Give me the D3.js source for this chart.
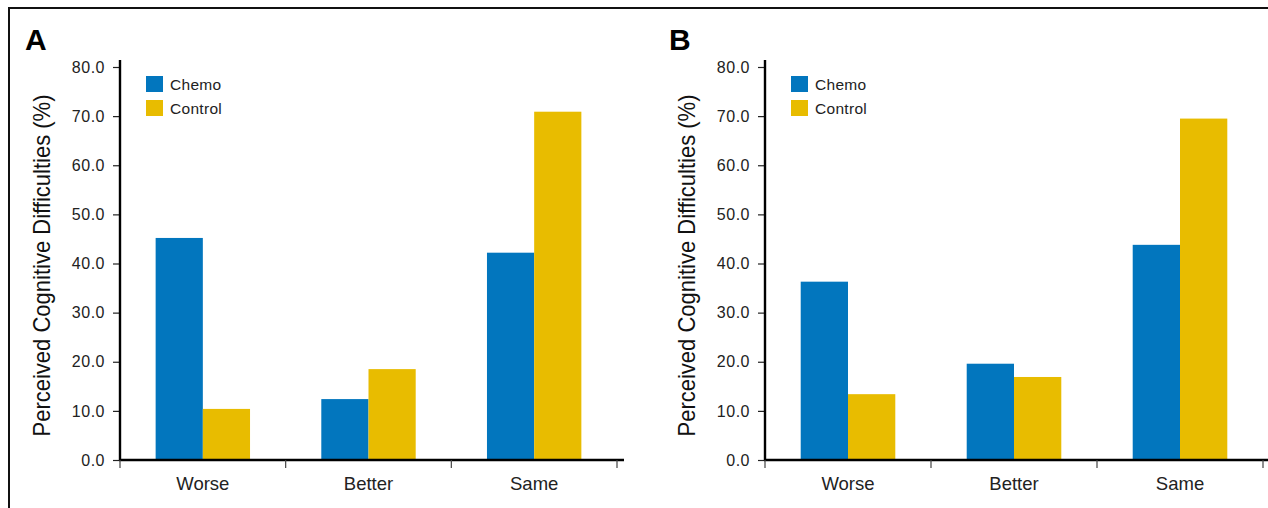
<!DOCTYPE html>
<html>
<head>
<meta charset="utf-8">
<script src="https://cdn.jsdelivr.net/npm/d3@7"></script>
<style>
  body { margin: 0; background: #fff; }
  svg { display: block; font-family: "Liberation Sans", Arial, sans-serif; }
</style>
</head>
<body>
<svg id="chart" width="1268" height="508"></svg>
<script>
// data
var categories = ['Worse', 'Better', 'Same'];
var series = ['Chemo', 'Control'];
var chemoA = [45.2, 12.4, 42.2];
var controlA = [10.4, 18.5, 70.9];
var chemoB = [36.3, 19.6, 43.8];
var controlB = [13.4, 16.9, 69.5];
var yTicks = [0, 10, 20, 30, 40, 50, 60, 70, 80];

var colors = { Chemo: '#0276BE', Control: '#E8BC00' };

var svg = d3.select('#chart');

// frame (top and left edges only)
svg.append('line').attr('x1', 9).attr('x2', 1268).attr('y1', 8).attr('y2', 8)
   .attr('stroke', '#111').attr('stroke-width', 2);
svg.append('line').attr('x1', 9).attr('x2', 9).attr('y1', 7).attr('y2', 508)
   .attr('stroke', '#111').attr('stroke-width', 2);

var panels = [
  { label: 'A', left: 120, right: 617, labelX: 25, chemo: chemoA, control: controlA },
  { label: 'B', left: 765, right: 1263, labelX: 669, chemo: chemoB, control: controlB }
];

panels.forEach(function(p) {
  var g = svg.append('g');

  var y = d3.scaleLinear().domain([0, 80]).range([460, 67]);
  var x0 = d3.scaleBand().domain(categories).range([p.left, p.right]);
  var x1 = d3.scaleBand().domain(series).range([0, x0.bandwidth()]).paddingOuter(0.755);

  var rows = categories.map(function(c, i) {
    return { cat: c, Chemo: p.chemo[i], Control: p.control[i] };
  });

  // bars
  g.selectAll('.grp')
    .data(rows)
    .join('g')
    .attr('transform', d => `translate(${x0(d.cat)},0)`)
    .selectAll('rect')
    .data(d => series.map(s => ({ key: s, value: d[s] })))
    .join('rect')
    .attr('x', d => x1(d.key))
    .attr('width', x1.bandwidth())
    .attr('y', d => y(d.value))
    .attr('height', d => y(0) - y(d.value))
    .attr('fill', d => colors[d.key]);

  // y axis
  var yAxis = g.append('g')
    .attr('transform', `translate(${p.left},0)`)
    .call(d3.axisLeft(y).tickValues(yTicks).tickFormat(d3.format('.1f')).tickSize(7).tickPadding(8));
  yAxis.select('.domain').remove();
  yAxis.selectAll('.tick line').attr('stroke', '#222').attr('stroke-width', 1.2);
  yAxis.selectAll('.tick text').attr('font-size', 16).attr('fill', '#222')
    .attr('letter-spacing', 0.5)
    .attr('font-family', '"Liberation Sans", Arial, sans-serif');
  g.append('line').attr('x1', p.left).attr('x2', p.left)
    .attr('y1', 60).attr('y2', y(0) + 1)
    .attr('stroke', '#000').attr('stroke-width', 2.4);

  // x axis
  var xAxis = g.append('g')
    .attr('transform', `translate(0,${y(0)})`)
    .call(d3.axisBottom(x0).tickSize(0).tickPadding(17));
  xAxis.select('.domain').remove();
  xAxis.selectAll('.tick text').attr('font-size', 18.5).attr('fill', '#222')
    .attr('font-family', '"Liberation Sans", Arial, sans-serif');
  g.append('line').attr('x1', p.left - 1).attr('x2', Math.min(p.right + 7, 1268))
    .attr('y1', y(0)).attr('y2', y(0))
    .attr('stroke', '#000').attr('stroke-width', 2.4);
  var edges = categories.map(c => x0(c)).concat([x0.range()[1]]);
  g.selectAll('.edge')
    .data(edges)
    .join('line')
    .attr('x1', d => d).attr('x2', d => d)
    .attr('y1', y(0)).attr('y2', y(0) + 8)
    .attr('stroke', '#444').attr('stroke-width', 1.2);

  // y title
  g.append('text')
    .attr('transform', `translate(${p.left - 70},${(y(0) + y(80)) / 2 + 2}) rotate(-90)`)
    .attr('text-anchor', 'middle')
    .attr('font-size', 24)
    .attr('fill', '#111')
    .attr('textLength', 342)
    .attr('lengthAdjust', 'spacingAndGlyphs')
    .text('Perceived Cognitive Difficulties (%)');

  // panel label
  g.append('text')
    .attr('x', p.labelX).attr('y', 50)
    .attr('font-size', 30).attr('font-weight', 'bold').attr('fill', '#000')
    .text(p.label);

  // legend
  var leg = g.append('g').attr('transform', `translate(${p.left + 26},76)`);
  series.forEach(function(s, i) {
    leg.append('rect').attr('x', 0).attr('y', i * 24).attr('width', 17).attr('height', 16)
      .attr('fill', colors[s]);
    leg.append('text').attr('x', 24).attr('y', i * 24 + 13.5)
      .attr('font-size', 15.5).attr('letter-spacing', 0.3).attr('fill', '#222').text(s);
  });
});
</script>
</body>
</html>
